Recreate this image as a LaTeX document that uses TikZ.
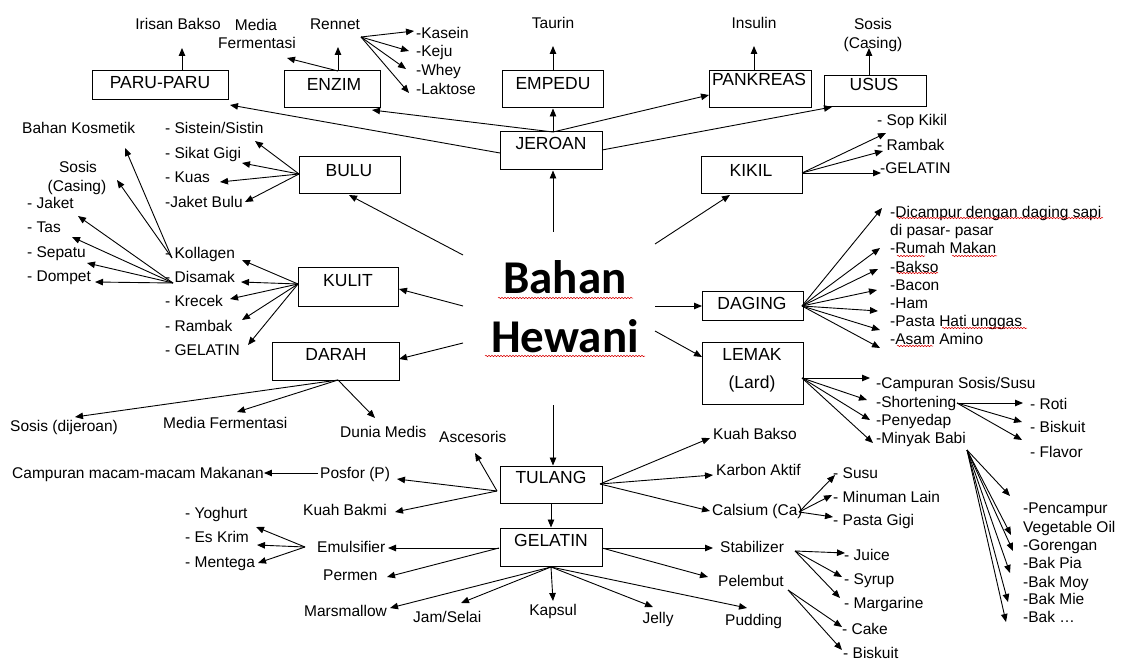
\documentclass[tikz,border=0pt]{standalone}
\usepackage{fontspec}
\setmainfont{Liberation Sans}
\newfontfamily\titlefont{Carlito}
\usetikzlibrary{arrows.meta,decorations.pathmorphing}
\begin{document}
\begin{tikzpicture}[x=1pt,y=-1pt,
 lbl/.style={font=\fontsize{15.5}{18}\selectfont, inner sep=0pt, text height=11.1pt, text depth=0pt, anchor=west},
 clbl/.style={lbl, anchor=center},
 bx/.style={draw, line width=1pt, inner sep=0pt},
 bxl/.style={font=\fontsize{17.5}{20}\selectfont, inner sep=0pt, text height=12.5pt, text depth=0pt},
 arr/.style={line width=0.9pt, -{Triangle[length=8pt,width=6.5pt]}},
 wavy/.style={draw=red!85!black, line width=0.5pt, decorate, decoration={snake, amplitude=0.7pt, segment length=3pt}},
 ttl/.style={font=\titlefont\bfseries\fontsize{47}{50}\selectfont, inner sep=0pt, anchor=base},
]
\fill[white] (0,0) rectangle (1121,660);
\useasboundingbox (0,0) rectangle (1121,660);

% ---------- boxes ----------
\node[bx, minimum width=136pt, minimum height=29pt] (paru) at (160,85.5) {};
\node[bx, minimum width=96pt, minimum height=37pt] (enzim) at (332,89.5) {};
\node[bx, minimum width=101pt, minimum height=37pt] (empedu) at (552.5,89.5) {};
\node[bx, minimum width=102pt, minimum height=37pt] (pankreas) at (760,89.5) {};
\node[bx, minimum width=102pt, minimum height=31pt] (usus) at (875,91.5) {};
\node[bx, minimum width=102pt, minimum height=38pt] (jeroan) at (551,151) {};
\node[bx, minimum width=101pt, minimum height=37pt] (bulu) at (349.5,175.5) {};
\node[bx, minimum width=101pt, minimum height=37pt] (kikil) at (751.5,175.5) {};
\node[bx, minimum width=100pt, minimum height=38pt] (kulit) at (348,287) {};
\node[bx, minimum width=127pt, minimum height=38pt] (darah) at (335.5,361) {};
\node[bx, minimum width=101pt, minimum height=29pt] (daging) at (752.5,305.5) {};
\node[bx, minimum width=101pt, minimum height=62pt] (lemak) at (752.5,373) {};
\node[bx, minimum width=102pt, minimum height=37pt] (tulang) at (551,484.5) {};
\node[bx, minimum width=102pt, minimum height=38pt] (gelatin) at (551,547) {};

\node[bxl] (paruT) at (160,82) {PARU-PARU};
\node[bxl] (enzimT) at (334,84) {ENZIM};
\node[bxl] (empeduT) at (553,83) {EMPEDU};
\node[bxl] (pankreasT) at (759,79) {PANKREAS};
\node[bxl] (ususT) at (874,84) {USUS};
\node[bxl] (jeroanT) at (551,143) {JEROAN};
\node[bxl] (buluT) at (349,170) {BULU};
\node[bxl] (kikilT) at (751,170) {KIKIL};
\node[bxl] (kulitT) at (348,280) {KULIT};
\node[bxl] (darahT) at (336,354) {DARAH};
\node[bxl] (dagingT) at (752,303) {DAGING};
\node[bxl] (lemakT) at (752,354) {LEMAK};
\node[bxl] (lardT) at (752,382) {(Lard)};
\node[bxl] (tulangT) at (551,477) {TULANG};
\node[bxl] (gelatinT) at (551,540) {GELATIN};

% ---------- title ----------
\node[ttl] (bahan) at (565,294) {Bahan};
\node[ttl] (hewani) at (565,352) {Hewani};
\coordinate (wb1) at (498,298); \coordinate (wb2) at (633,298);
\coordinate (wh1) at (485,356); \coordinate (wh2) at (645,356);
\draw[wavy] (wb1) -- (wb2);
\draw[wavy] (wh1) -- (wh2);

% ---------- labels ----------
\node[clbl] (irisan) at (178,24) {Irisan Bakso};
\node[clbl] (media1) at (256,25) {Media};
\node[clbl] (media2) at (257,43) {Fermentasi};
\node[clbl] (rennet) at (335,24) {Rennet};
\node[lbl] (kasein) at (416,33) {-Kasein};
\node[lbl] (keju) at (416,51) {-Keju};
\node[lbl] (whey) at (416,70) {-Whey};
\node[lbl] (laktose) at (416,89) {-Laktose};
\node[clbl] (taurin) at (553,23) {Taurin};
\node[clbl] (insulin) at (754,23) {Insulin};
\node[clbl] (sosisU1) at (873,24) {Sosis};
\node[clbl] (sosisU2) at (873,43) {(Casing)};

\node[lbl] (kosmetik) at (22,128) {Bahan Kosmetik};
\node[clbl] (sosisK1) at (78,167) {Sosis};
\node[clbl] (sosisK2) at (77,186) {(Casing)};
\node[lbl] (jaket) at (27,203) {- Jaket};
\node[lbl] (tas) at (27,227) {- Tas};
\node[lbl] (sepatu) at (27,252) {- Sepatu};
\node[lbl] (dompet) at (27,276) {- Dompet};
\node[lbl] (sistein) at (165,128) {- Sistein/Sistin};
\node[lbl] (sikat) at (165,153) {- Sikat Gigi};
\node[lbl] (kuas) at (165,177) {- Kuas};
\node[lbl] (jaketbulu) at (165,202) {-Jaket Bulu};
\node[lbl] (kollagen) at (165,253) {- Kollagen};
\node[lbl] (disamak) at (165,277) {- Disamak};
\node[lbl] (krecek) at (165,301) {- Krecek};
\node[lbl] (rambakK) at (165,326) {- Rambak};
\node[lbl] (gelatinK) at (165,350) {- GELATIN};
\node[lbl] (sosisD) at (10,426) {Sosis (dijeroan)};
\node[lbl] (mediaD) at (163,423) {Media Fermentasi};
\node[lbl] (dunia) at (340,432) {Dunia Medis};
\node[lbl] (ascesoris) at (439,437) {Ascesoris};
\node[lbl] (campuran) at (12,473) {Campuran macam-macam Makanan};
\node[lbl] (posfor) at (320,473) {Posfor (P)};
\node[lbl] (bakmi) at (303,510) {Kuah Bakmi};
\node[lbl] (yoghurt) at (185,513) {- Yoghurt};
\node[lbl] (eskrim) at (185,537) {- Es Krim};
\node[lbl] (mentega) at (185,562) {- Mentega};
\node[lbl] (emulsifier) at (317,547) {Emulsifier};
\node[lbl] (permen) at (323,575) {Permen};
\node[lbl] (marsmallow) at (304,611) {Marsmallow};
\node[lbl] (jam) at (413,617) {Jam/Selai};
\node[clbl] (kapsul) at (553,610) {Kapsul};
\node[clbl] (jelly) at (658,618) {Jelly};
\node[lbl] (pudding) at (725,620) {Pudding};
\node[lbl] (stabilizer) at (720,547) {Stabilizer};
\node[lbl] (pelembut) at (718,581) {Pelembut};
\node[lbl] (juice) at (844,555) {- Juice};
\node[lbl] (syrup) at (844,579) {- Syrup};
\node[lbl] (margarine) at (844,603) {- Margarine};
\node[lbl] (cake) at (842,629) {- Cake};
\node[lbl] (biskuitP) at (843,653) {- Biskuit};
\node[lbl] (kuahbakso) at (713,434) {Kuah Bakso};
\node[lbl] (karbon) at (716,470) {Karbon Aktif};
\node[lbl] (calsium) at (712,510) {Calsium (Ca)};
\node[lbl] (susu) at (833,473) {- Susu};
\node[lbl] (minuman) at (833,497) {- Minuman Lain};
\node[lbl] (pastagigi) at (833,520) {- Pasta Gigi};

\node[lbl] (sopkikil) at (877,120) {- Sop Kikil};
\node[lbl] (rambakR) at (877,145) {- Rambak};
\node[lbl] (gelatinR) at (880,168) {-GELATIN};
\node[lbl] (dicampur) at (890,212) {-Dicampur dengan daging sapi};
\node[lbl] (dipasar) at (890,230) {di pasar- pasar};
\node[lbl] (rumah) at (890,248) {-Rumah Makan};
\node[lbl] (bakso) at (890,267) {-Bakso};
\node[lbl] (bacon) at (890,285) {-Bacon};
\node[lbl] (ham) at (890,303) {-Ham};
\node[lbl] (pasta) at (890,321) {-Pasta Hati unggas};
\node[lbl] (asam) at (890,339) {-Asam Amino};
\node[lbl] (campS) at (876,383) {-Campuran Sosis/Susu};
\node[lbl] (shortening) at (876,402) {-Shortening};
\node[lbl] (penyedap) at (876,420) {-Penyedap};
\node[lbl] (minyak) at (876,438) {-Minyak Babi};
\node[lbl] (roti) at (1030,404) {- Roti};
\node[lbl] (biskuitS) at (1030,427) {- Biskuit};
\node[lbl] (flavor) at (1030,452) {- Flavor};
\node[lbl] (pencampur) at (1023,508) {-Pencampur};
\node[lbl] (vegetable) at (1023,527) {Vegetable Oil};
\node[lbl] (gorengan) at (1023,545) {-Gorengan};
\node[lbl] (bakpia) at (1023,563) {-Bak Pia};
\node[lbl] (bakmoy) at (1023,582) {-Bak Moy};
\node[lbl] (bakmie) at (1023,599) {-Bak Mie};
\node[lbl] (bakdots) at (1023,617) {-Bak \ldots};

% spell-check underlines
\coordinate (u1a) at (897,218); \coordinate (u1b) at (1103,218);
\coordinate (u2a) at (897,256); \coordinate (u2b) at (925,256);
\coordinate (u3a) at (952,256); \coordinate (u3b) at (997,256);
\coordinate (u4a) at (897,273); \coordinate (u4b) at (938,273);
\coordinate (u5a) at (942,328); \coordinate (u5b) at (1027,328);
\coordinate (u6a) at (897,346); \coordinate (u6b) at (933,346);
\draw[wavy] (u1a) -- (u1b);
\draw[wavy] (u2a) -- (u2b);
\draw[wavy] (u3a) -- (u3b);
\draw[wavy] (u4a) -- (u4b);
\draw[wavy] (u5a) -- (u5b);
\draw[wavy] (u6a) -- (u6b);

% ---------- coordinates ----------
\coordinate (cUp) at (553,232);
\coordinate (cBulu) at (463,255);  \coordinate (tBulu) at (349,195);
\coordinate (cKulit) at (463,306); \coordinate (tKulit) at (399,289);
\coordinate (cDarah) at (463,343); \coordinate (tDarah) at (399,359);
\coordinate (cKikil) at (655,244); \coordinate (tKikil) at (730,195);
\coordinate (cDaging) at (655,306); \coordinate (tDaging) at (702,306);
\coordinate (cLemak) at (655,331); \coordinate (tLemak) at (702,357);
\coordinate (cDown) at (553,405);

\coordinate (jTop) at (553,132);
\coordinate (tPank) at (709,95);
\coordinate (tEnzim) at (372,110);
\coordinate (jLeft) at (500,153); \coordinate (tParu) at (230,105);
\coordinate (jRight) at (602,150); \coordinate (tUsus) at (832,107);

\coordinate (pTop) at (182,71); \coordinate (tIrisan) at (182,48);
\coordinate (eTop) at (338,71); \coordinate (tRennet) at (338,47); \coordinate (tMedia) at (287,58);
\coordinate (rH) at (361,37);
\coordinate (tKasein) at (414,31); \coordinate (tKeju) at (409,51);
\coordinate (tWhey) at (406,69); \coordinate (tLaktose) at (409,93);
\coordinate (emTop) at (553,71); \coordinate (tTaurin) at (553,46);
\coordinate (pkTop) at (754,71); \coordinate (tInsulin) at (754,46);
\coordinate (usTop) at (869,76); \coordinate (tSosisU) at (869,48);

\coordinate (kH) at (802,173);
\coordinate (tSop) at (886,133); \coordinate (tRambakR) at (883,151); \coordinate (tGelR) at (881,173);

\coordinate (dH) at (802,306);
\coordinate (tD1) at (882,208); \coordinate (tD2) at (880,248); \coordinate (tD3) at (878,269);
\coordinate (tD4) at (877,290); \coordinate (tD5) at (878,311); \coordinate (tD6) at (880,330);
\coordinate (tD7) at (880,348);

\coordinate (lH) at (802,378);
\coordinate (tL1) at (870,378); \coordinate (tL2) at (867,400); \coordinate (tL3) at (870,420); \coordinate (tL4) at (873,443);

\coordinate (sH) at (957,403);
\coordinate (tS1) at (1023,403); \coordinate (tS2) at (1022,422); \coordinate (tS3) at (1022,440);

\coordinate (mH) at (967,450);
\coordinate (tM1) at (1010,496); \coordinate (tM2) at (1011,535); \coordinate (tM3) at (1013,551);
\coordinate (tM4) at (1010,573); \coordinate (tM5) at (1008,602); \coordinate (tM6) at (1006,622);

\coordinate (trH) at (600,484);
\coordinate (tKB) at (710,438); \coordinate (tKA) at (713,475); \coordinate (tCa) at (710,511);
\coordinate (caH) at (799,512);
\coordinate (tC1) at (835,475); \coordinate (tC2) at (832,495); \coordinate (tC3) at (833,517);

\coordinate (tlH) at (497,491);
\coordinate (tAsc) at (475,453); \coordinate (tPos) at (397,479); \coordinate (tBak) at (395,512);

\coordinate (glH) at (499,548); \coordinate (tEmul) at (388,548); \coordinate (tPerm) at (387,577);
\coordinate (gbH) at (551,567);
\coordinate (tMars) at (390,608); \coordinate (tJam) at (461,603); \coordinate (tKap) at (553,601);
\coordinate (tJelly) at (653,607); \coordinate (tPud) at (747,608);
\coordinate (grH) at (602,548); \coordinate (tStab) at (713,548); \coordinate (tPel) at (708,577);

\coordinate (emH) at (305,547);
\coordinate (tY) at (256,527); \coordinate (tE) at (257,545); \coordinate (tMe) at (258,563);
\coordinate (stH) at (795,551);
\coordinate (tJu) at (845,553); \coordinate (tSy) at (842,577); \coordinate (tMa) at (840,598);
\coordinate (peH) at (788,590);
\coordinate (tCk) at (842,627); \coordinate (tBs) at (842,650);

\coordinate (daH) at (338,380);
\coordinate (tSD) at (75,417); \coordinate (tMD) at (237,412); \coordinate (tDM) at (375,418);

\coordinate (kuH) at (298,284);
\coordinate (tK1) at (242,260); \coordinate (tK2) at (241,282); \coordinate (tK3) at (230,299);
\coordinate (tK4) at (242,320); \coordinate (tK5) at (248,345);
\coordinate (diH) at (173,283);
\coordinate (tJk) at (78,216); \coordinate (tTs) at (72,237); \coordinate (tSp) at (87,263); \coordinate (tDp) at (95,282);
\coordinate (koH) at (172,258);
\coordinate (tKos) at (125,148); \coordinate (tSK) at (117,180);
\coordinate (buH) at (299,174);
\coordinate (tB1) at (255,141); \coordinate (tB2) at (242,163); \coordinate (tB3) at (220,182); \coordinate (tB4) at (245,202);

% ---------- connectors ----------
\draw[arr] (cUp) -- (jeroan.south -| cUp);
\draw[arr] (cBulu) -- (tBulu);
\draw[arr] (cKulit) -- (tKulit);
\draw[arr] (cDarah) -- (tDarah);
\draw[arr] (cKikil) -- (tKikil);
\draw[arr] (cDaging) -- (tDaging);
\draw[arr] (cLemak) -- (tLemak);
\draw[arr] (cDown) -- (tulang.north -| cDown);

\draw[arr] (jTop) -- (empedu.south -| jTop);
\draw[arr] (jTop) -- (tPank);
\draw[arr] (jTop) -- (tEnzim);
\draw[arr] (jLeft) -- (tParu);
\draw[arr] (jRight) -- (tUsus);

\draw[arr] (pTop) -- (tIrisan);
\draw[arr] (eTop) -- (tRennet);
\draw[arr] (eTop) -- (tMedia);
\foreach \t in {tKasein,tKeju,tWhey,tLaktose} \draw[arr] (rH) -- (\t);
\draw[arr] (emTop) -- (tTaurin);
\draw[arr] (pkTop) -- (tInsulin);
\draw[arr] (usTop) -- (tSosisU);

\foreach \t in {tSop,tRambakR,tGelR} \draw[arr] (kH) -- (\t);
\foreach \t in {tD1,tD2,tD3,tD4,tD5,tD6,tD7} \draw[arr] (dH) -- (\t);
\foreach \t in {tL1,tL2,tL3,tL4} \draw[arr] (lH) -- (\t);
\foreach \t in {tS1,tS2,tS3} \draw[arr] (sH) -- (\t);
\foreach \t in {tM1,tM2,tM3,tM4,tM5,tM6} \draw[arr] (mH) -- (\t);

\foreach \t in {tKB,tKA,tCa} \draw[arr] (trH) -- (\t);
\foreach \t in {tC1,tC2,tC3} \draw[arr] (caH) -- (\t);
\foreach \t in {tAsc,tPos,tBak} \draw[arr] (tlH) -- (\t);
\draw[arr] ([xshift=-2pt]posfor.west) -- (campuran.east);
\draw[arr] (tulang.south) -- (gelatin.north);

\foreach \t in {tEmul,tPerm} \draw[arr] (glH) -- (\t);
\foreach \t in {tMars,tJam,tKap,tJelly,tPud} \draw[arr] (gbH) -- (\t);
\foreach \t in {tStab,tPel} \draw[arr] (grH) -- (\t);
\foreach \t in {tY,tE,tMe} \draw[arr] (emH) -- (\t);
\foreach \t in {tJu,tSy,tMa} \draw[arr] (stH) -- (\t);
\foreach \t in {tCk,tBs} \draw[arr] (peH) -- (\t);

\foreach \t in {tSD,tMD,tDM} \draw[arr] (daH) -- (\t);
\foreach \t in {tK1,tK2,tK3,tK4,tK5} \draw[arr] (kuH) -- (\t);
\foreach \t in {tJk,tTs,tSp,tDp} \draw[arr] (diH) -- (\t);
\foreach \t in {tKos,tSK} \draw[arr] (koH) -- (\t);
\foreach \t in {tB1,tB2,tB3,tB4} \draw[arr] (buH) -- (\t);
\end{tikzpicture}
\end{document}
